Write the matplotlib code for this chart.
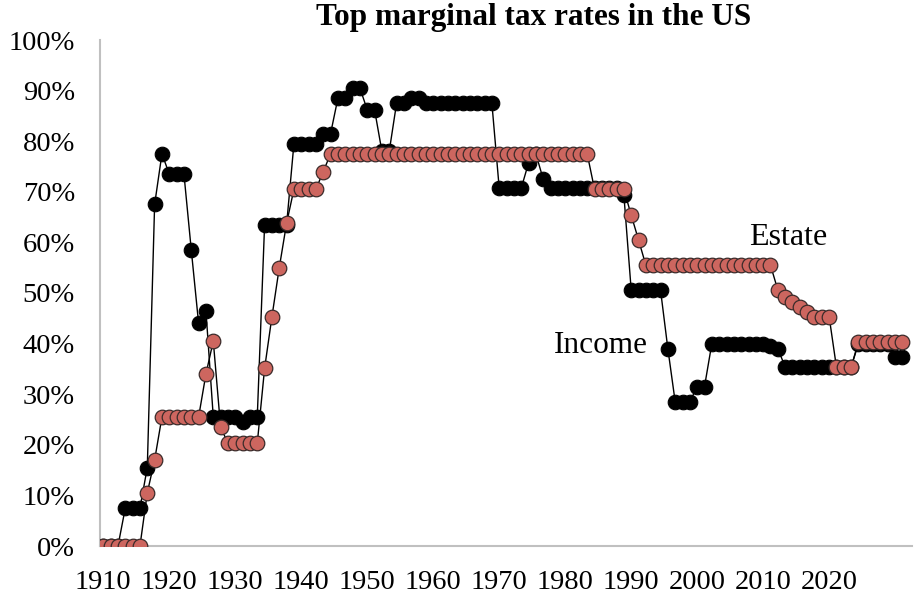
import numpy as np
import matplotlib
matplotlib.use("Agg")
import matplotlib.pyplot as plt

plt.rcParams['font.family'] = ['Liberation Serif', 'DejaVu Serif']

# one point per year, 1910-2019
years = np.arange(1910, 2020)

income = (
    [0, 0, 0, 7.5, 7.5, 7.5, 15.5, 67.5, 77.5, 73.5, 73.5, 73.5, 58.5, 44, 46.5]   # 1910-1924
    + [25.5, 25.5, 25.5, 25.5, 24.5, 25.5, 25.5]                                  # 1925-1931
    + [63.5, 63.5, 63.5, 63.5, 79.5, 79.5, 79.5, 79.5, 81.5, 81.5]                # 1932-1941
    + [88.5, 88.5, 90.5, 90.5, 86.2, 86.2, 78, 78, 87.5, 87.5, 88.5, 88.5]        # 1942-1953
    + [87.5] * 10                                                                  # 1954-1963
    + [70.7, 70.7, 70.7, 70.7, 75.7, 77.5, 72.5]                                  # 1964-1970
    + [70.7] * 10 + [69.4]                                                         # 1971-1981
    + [50.6] * 5 + [39, 28.5, 28.5, 28.5, 31.5, 31.5]                             # 1982-1992
    + [40] * 8 + [39.5, 39]                                                        # 1993-2002
    + [35.4] * 10 + [40] * 5 + [37.4, 37.4]                                        # 2003-2019
)

estate = (
    [0] * 6 + [10.5, 17] + [25.5] * 6 + [34, 40.5, 23.5]                          # 1910-1926
    + [20.3] * 5 + [35.1, 45.3, 55, 63.8] + [70.5] * 4 + [74]                     # 1927-1940
    + [77.5] * 36                                                                  # 1941-1976
    + [70.5] * 5 + [65.4, 60.5]                                                    # 1977-1983
    + [55.5] * 18                                                                  # 1984-2001
    + [50.6, 49.3, 48.3, 47.3, 46.3, 45.3, 45.3, 45.3]                            # 2002-2009
    + [35.3] * 3 + [40.4] * 7                                                      # 2010-2019
)

# labels sit every 9 points in the original
tick_years = years[:100:9]
tick_labels = [str(y) for y in range(1910, 2021, 10)]
ytick_vals = np.arange(0, 101, 10)

fig = plt.figure(figsize=(9.15, 5.94), dpi=100)
ax = fig.add_axes([100 / 915, 1 - 546 / 594, 812 / 915, 506 / 594])

ax.plot(years, income, color='black', lw=1, marker='o', ms=10.5,
        mfc='black', mec='black', mew=0.8, zorder=2)
ax.plot(years, estate, color='black', lw=1, marker='o', ms=10.5,
        mfc='#CD665F', mec='#3b2b2a', mew=0.9, zorder=3)

ax.set_xlim(1909.55, 2020.3)
ax.set_ylim(0, 100)
ax.set_xticks(tick_years)
ax.set_xticklabels(tick_labels)
ax.set_yticks(ytick_vals)
ax.set_yticklabels([f'{v}%' for v in ytick_vals])
ax.tick_params(length=0, labelsize=20.5, colors='black')
ax.tick_params(axis='x', pad=17)
ax.tick_params(axis='y', pad=18)

for side in ['top', 'right']:
    ax.spines[side].set_visible(False)
for side in ['left', 'bottom']:
    ax.spines[side].set_color('#c0c0c0')
    ax.spines[side].set_linewidth(1.5)
ax.patch.set_alpha(0)
for s in ax.spines.values():
    s.set_zorder(1)

ax.text(2003.4, 61, 'Estate', fontsize=23, ha='center', va='center')
ax.text(1977.8, 39.7, 'Income', fontsize=22.5, ha='center', va='center')

fig.text(534 / 915, 1 - 17 / 594, 'Top marginal tax rates in the US',
         fontsize=22.5, fontweight='bold', ha='center', va='center')

fig.savefig('out.png', dpi=100)
